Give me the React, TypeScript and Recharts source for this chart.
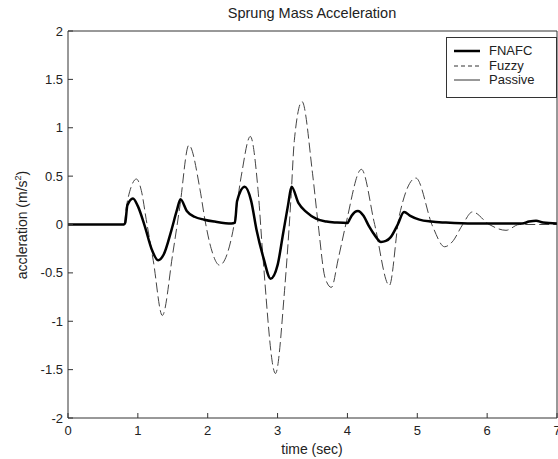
import { Legend, Line, LineChart, XAxis, YAxis } from "recharts";

const fnafcTime = [
  0, 0.8, 0.82, 0.85, 0.93, 1.0, 1.1, 1.2, 1.29, 1.37, 1.48, 1.56, 1.61, 1.7, 1.81,
  1.95, 2.1, 2.34, 2.39, 2.42, 2.53, 2.62, 2.7, 2.8, 2.9, 3.0, 3.08, 3.15, 3.2, 3.3,
  3.41, 3.55, 3.7, 3.85, 4.0, 4.03, 4.06, 4.15, 4.23, 4.31, 4.4, 4.48, 4.55, 4.62,
  4.72, 4.81, 4.9, 5.03, 5.2, 5.41, 5.8, 6.5, 6.6, 6.7, 6.8, 7.0,
];
const fnafcValue = [
  0, 0, 0.02, 0.2, 0.27, 0.19, -0.02, -0.26, -0.37, -0.31, -0.06, 0.15, 0.26, 0.14,
  0.08, 0.05, 0.03, 0.01, 0.02, 0.24, 0.39, 0.25, -0.06, -0.35, -0.56, -0.42, -0.09,
  0.2, 0.39, 0.22, 0.13, 0.06, 0.03, 0.02, 0.015, 0.05, 0.09, 0.14, 0.09, -0.02,
  -0.12, -0.18, -0.17, -0.13, 0.0, 0.13, 0.09, 0.05, 0.03, 0.02, 0.01, 0.01, 0.03,
  0.04, 0.02, 0.01,
];

const fuzzyTime = [
  0, 0.8, 0.84, 0.9, 0.98, 1.05, 1.12, 1.22, 1.35, 1.5, 1.6, 1.73, 1.89, 1.96, 2.05,
  2.17, 2.36, 2.48, 2.61, 2.72, 2.79, 2.97, 3.1, 3.19, 3.24, 3.35, 3.5, 3.58, 3.68,
  3.77, 3.87, 3.98, 4.2, 4.39, 4.6, 4.74, 4.98, 5.22, 5.39, 5.5, 5.65, 5.79, 6.03,
  6.27, 6.46, 7.0,
];
const fuzzyValue = [
  0, 0, 0.2, 0.38, 0.47, 0.35, 0.05, -0.37, -0.94, -0.3, 0.18, 0.82, 0.36, 0.05,
  -0.25, -0.42, -0.07, 0.5, 0.91, 0.36, -0.33, -1.54, -0.68, 0.25, 0.87, 1.27, 0.53,
  0.01, -0.55, -0.65, -0.35, 0.01, 0.57, 0.0, -0.63, 0.08, 0.48, -0.02, -0.23, -0.18,
  0, 0.13, 0, -0.06, 0, 0,
];

const xTicks = [0, 1, 2, 3, 4, 5, 6, 7];
const yTicks = [-2, -1.5, -1, -0.5, 0, 0.5, 1, 1.5, 2];

const legendItems = ["FNAFC", "Fuzzy", "Passive"];

const fnafcData = fnafcTime.map((t, i) => ({ t, v: fnafcValue[i] }));
const fuzzyData = fuzzyTime.map((t, i) => ({ t, v: fuzzyValue[i] }));

const axisColor = "#333";
const font = "'Liberation Sans', Arial, sans-serif";

function BottomTick({ x, y, payload }: any) {
  return (
    <g>
      <line x1={x} x2={x} y1={y} y2={y - 5} stroke={axisColor} />
      <text x={x} y={y + 17} textAnchor="middle" fontSize={13} fill="#222" fontFamily={font}>
        {payload.value}
      </text>
    </g>
  );
}

function TopTick({ x, y }: any) {
  return <line x1={x} x2={x} y1={y} y2={y + 5} stroke={axisColor} />;
}

function LeftTick({ x, y, payload }: any) {
  return (
    <g>
      <line x1={x} x2={x + 5} y1={y} y2={y} stroke={axisColor} />
      <text x={x - 5} y={y + 4.5} textAnchor="end" fontSize={13} fill="#222" fontFamily={font}>
        {payload.value}
      </text>
    </g>
  );
}

function RightTick({ x, y }: any) {
  return <line x1={x} x2={x - 5} y1={y} y2={y} stroke={axisColor} />;
}

function LegendBox() {
  const samples = [
    <line x1={7} x2={33} y1={6} y2={6} stroke="#000" strokeWidth={2.5} />,
    <line x1={7} x2={33} y1={6} y2={6} stroke="#333" strokeDasharray="4 3" />,
    <line x1={7} x2={33} y1={6} y2={6} stroke="#333" />,
  ];
  return (
    <div
      style={{
        width: 111,
        height: 61,
        border: `1px solid ${axisColor}`,
        background: "#fff",
        fontFamily: font,
        fontSize: 13,
        color: "#222",
        paddingTop: 6,
        boxSizing: "border-box",
      }}
    >
      {legendItems.map((name, i) => (
        <div key={name} style={{ display: "flex", alignItems: "center", height: 14.5 }}>
          <svg width={40} height={12}>{samples[i]}</svg>
          <span style={{ marginLeft: 2, lineHeight: "14px" }}>{name}</span>
        </div>
      ))}
    </div>
  );
}

export default function App() {
  return (
    <div
      style={{
        position: "absolute",
        left: 0,
        top: 0,
        width: 558,
        height: 459,
        background: "#fff",
        fontFamily: font,
        color: "#222",
      }}
    >
      <div
        style={{
          position: "absolute",
          left: 312,
          top: 13,
          transform: "translate(-50%, -50%)",
          fontSize: 14.5,
          whiteSpace: "nowrap",
        }}
      >
        Sprung Mass Acceleration
      </div>
      <LineChart
        width={558}
        height={459}
        margin={{ top: 30, right: 0, bottom: 40, left: 67 }}
      >
        <XAxis
          xAxisId={0}
          dataKey="t"
          type="number"
          domain={[0, 7]}
          ticks={xTicks}
          interval={0}
          height={1}
          tickSize={0}
          tickMargin={0}
          tickLine={false}
          tick={<BottomTick />}
          axisLine={{ stroke: axisColor }}
        />
        <XAxis
          xAxisId="top"
          orientation="top"
          dataKey="t"
          type="number"
          domain={[0, 7]}
          ticks={xTicks}
          interval={0}
          height={1}
          tickSize={0}
          tickMargin={0}
          tickLine={false}
          tick={<TopTick />}
          axisLine={{ stroke: axisColor }}
        />
        <YAxis
          yAxisId={0}
          type="number"
          domain={[-2, 2]}
          ticks={yTicks}
          interval={0}
          width={1}
          tickSize={0}
          tickMargin={0}
          tickLine={false}
          tick={<LeftTick />}
          axisLine={{ stroke: axisColor }}
        />
        <YAxis
          yAxisId="right"
          orientation="right"
          type="number"
          domain={[-2, 2]}
          ticks={yTicks}
          interval={0}
          width={1}
          tickSize={0}
          tickMargin={0}
          tickLine={false}
          tick={<RightTick />}
          axisLine={{ stroke: axisColor }}
        />
        <Legend
          layout="vertical"
          align="center"
          verticalAlign="middle"
          content={<LegendBox />}
          wrapperStyle={{ left: 446, top: 37, width: 111, height: 61 }}
        />
        <Line
          data={fuzzyData}
          dataKey="v"
          name="Fuzzy"
          type="monotone"
          stroke="#444"
          strokeWidth={1}
          strokeDasharray="10 4"
          dot={false}
          activeDot={false}
          isAnimationActive={false}
        />
        <Line
          data={fnafcData}
          dataKey="v"
          name="FNAFC"
          type="monotone"
          stroke="#000"
          strokeWidth={2.5}
          dot={false}
          activeDot={false}
          isAnimationActive={false}
        />
      </LineChart>
      <div
        style={{
          position: "absolute",
          left: 312,
          top: 449,
          transform: "translate(-50%, -50%)",
          fontSize: 14,
          whiteSpace: "nowrap",
        }}
      >
        time (sec)
      </div>
      <div
        style={{
          position: "absolute",
          left: 22,
          top: 225,
          transform: "translate(-50%, -50%) rotate(-90deg)",
          fontSize: 14,
          whiteSpace: "nowrap",
          lineHeight: "16px",
        }}
      >
        accleration (m/s<sup style={{ fontSize: 9, lineHeight: 0 }}>2</sup>)
      </div>
    </div>
  );
}
